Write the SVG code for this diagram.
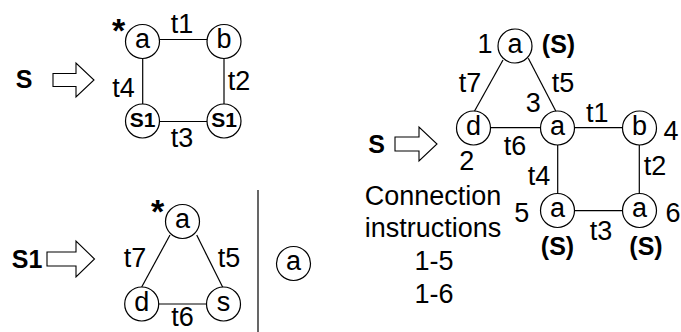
<svg xmlns="http://www.w3.org/2000/svg" width="681" height="332" viewBox="0 0 681 332">
<style>
text{font-family:"Liberation Sans",Arial,sans-serif;fill:#000}
.l{font-size:27px;text-anchor:middle}
.b{font-size:25px;font-weight:bold;text-anchor:middle}
.s1{font-size:21px;font-weight:bold;text-anchor:middle}
.ast{font-size:34px;font-weight:bold;text-anchor:middle}
circle{fill:#fff;stroke:#000;stroke-width:1.2}
line{stroke:#000;stroke-width:1.2}
.arr{fill:#fff;stroke:#000;stroke-width:1.1;stroke-linejoin:miter}
</style>
<rect width="681" height="332" fill="#fff"/>

<!-- Rule 1: S -> square -->
<text class="b" x="24" y="88">S</text>
<polygon class="arr" points="53,73.5 76,73.5 76,63 94,80 76,97 76,86.5 53,86.5"/>
<g id="edges1">
<line x1="159.5" y1="39.5" x2="207" y2="39.5"/>
<line x1="224" y1="58.5" x2="224" y2="104"/>
<line x1="159.5" y1="121.5" x2="207" y2="121.5"/>
<line x1="142.7" y1="58.5" x2="142.7" y2="104"/>
</g>
<g id="n1a"><circle cx="142.5" cy="41.5" r="17"/><text class="l" x="142.5" y="48.3">a</text></g>
<g id="n1b"><circle cx="224" cy="41.5" r="17"/><text class="l" x="224" y="48.3">b</text></g>
<g id="n1s1l"><circle cx="142.5" cy="121" r="17"/><text class="s1" x="142.5" y="126.7">S1</text></g>
<g id="n1s1r"><circle cx="224" cy="121" r="17"/><text class="s1" x="224" y="126.7">S1</text></g>
<text class="ast" x="118.5" y="41.5">*</text>
<text class="l" x="182" y="33.3">t1</text>
<text class="l" x="239" y="90">t2</text>
<text class="l" x="123.5" y="97">t4</text>
<text class="l" x="182" y="146.7">t3</text>

<!-- Rule 2: S1 -> triangle | a -->
<text class="b" x="27" y="268">S1</text>
<polygon class="arr" points="47,252 76,252 76,241 94.5,259 76,277 76,266 47,266"/>
<g id="edges2">
<line x1="170" y1="235" x2="141.7" y2="287"/>
<line x1="196.7" y1="235" x2="222.7" y2="287.3"/>
<line x1="158.7" y1="304" x2="206.5" y2="304"/>
<line x1="258" y1="190" x2="258" y2="332"/>
</g>
<g id="n2a"><circle cx="182.5" cy="221.5" r="17"/><text class="l" x="182.5" y="228.2">a</text></g>
<g id="n2d"><circle cx="141.7" cy="304" r="17"/><text class="l" x="141.7" y="310.7">d</text></g>
<g id="n2s"><circle cx="223.5" cy="304" r="17"/><text class="l" x="223.5" y="310.7">s</text></g>
<g id="n2alone"><circle cx="293.5" cy="263.5" r="17"/><text class="l" x="293.5" y="270.2">a</text></g>
<text class="ast" x="157.5" y="222.8">*</text>
<text class="l" x="135" y="266.7">t7</text>
<text class="l" x="229" y="266.7">t5</text>
<text class="l" x="182.5" y="326">t6</text>

<!-- Result -->
<text class="b" x="376.7" y="153.3">S</text>
<polygon class="arr" points="395,137 419,137 419,127 437,144 419,161 419,151 395,151"/>
<g id="edges3">
<line x1="503" y1="60" x2="474.3" y2="111.5"/>
<line x1="528.3" y1="58.3" x2="556" y2="111.5"/>
<line x1="490.5" y1="127.7" x2="540.5" y2="127.7"/>
<line x1="574.5" y1="127.7" x2="622.5" y2="127.7"/>
<line x1="557.7" y1="145" x2="557.7" y2="193.5"/>
<line x1="639.3" y1="145" x2="639.3" y2="193.5"/>
<line x1="574.5" y1="210.7" x2="622.5" y2="210.7"/>
</g>
<g id="n3a1"><circle cx="515" cy="46" r="17"/><text class="l" x="515" y="52.7">a</text></g>
<g id="n3d"><circle cx="473.5" cy="128" r="17"/><text class="l" x="473.5" y="134.7">d</text></g>
<g id="n3a3"><circle cx="557.5" cy="128" r="17"/><text class="l" x="557.5" y="134.7">a</text></g>
<g id="n3b"><circle cx="639.5" cy="128" r="17"/><text class="l" x="639.5" y="134.7">b</text></g>
<g id="n3a5"><circle cx="557.5" cy="210.5" r="17"/><text class="l" x="557.5" y="217.2">a</text></g>
<g id="n3a6"><circle cx="639.5" cy="210.5" r="17"/><text class="l" x="639.5" y="217.2">a</text></g>
<text class="l" x="485" y="53.3">1</text>
<text class="b" x="558.5" y="53">(S)</text>
<text class="l" x="470" y="91.7">t7</text>
<text class="l" x="563" y="91.7">t5</text>
<text class="l" x="533.3" y="111.7">3</text>
<text class="l" x="597.3" y="121.7">t1</text>
<text class="l" x="671" y="140">4</text>
<text class="l" x="515" y="155">t6</text>
<text class="l" x="466.7" y="170">2</text>
<text class="l" x="539" y="185">t4</text>
<text class="l" x="655" y="175">t2</text>
<text class="l" x="521.7" y="221.7">5</text>
<text class="l" x="673" y="221.7">6</text>
<text class="l" x="601" y="240">t3</text>
<text class="b" x="557.5" y="255">(S)</text>
<text class="b" x="646" y="255">(S)</text>
<text class="l" x="433" y="205">Connection</text>
<text class="l" x="433" y="236.7">instructions</text>
<text class="l" x="434" y="270">1-5</text>
<text class="l" x="434" y="303.3">1-6</text>
</svg>
